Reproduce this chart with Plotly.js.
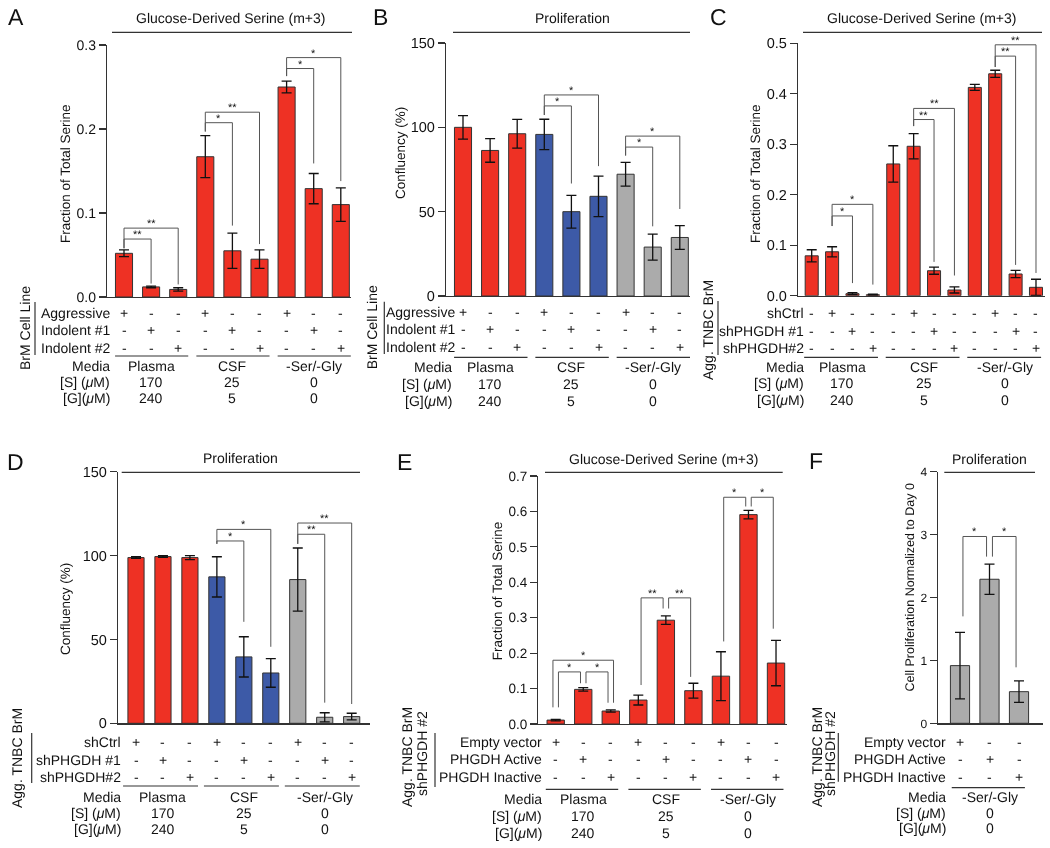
<!DOCTYPE html>
<html lang="en">
<head>
<meta charset="UTF-8" />
<title>Serine synthesis in BrM cells</title>
<script src="https://cdn.plot.ly/plotly-3.0.1.min.js"></script>
<style>
  body { margin: 0; background: #fff; }
  #fig { width: 1050px; height: 848px; will-change: transform; }
  #fig text { text-rendering: geometricPrecision; }
</style>
</head>
<body>
<div id="fig"></div>
<script>
// media table, shared by all panels
const mediaNames = ['Plasma', 'CSF', '-Ser/-Gly'];
const serineUM = ['170', '25', '0'];
const glycineUM = ['240', '5', '0'];
const mediaLabels = ['Media', '[S] (<i>μ</i>M)', '[G](<i>μ</i>M)'];

// A - glucose-derived serine, BrM lines
const aRows = ['Aggressive', 'Indolent #1', 'Indolent #2'];
const aCond = [0, 1, 2, 0, 1, 2, 0, 1, 2];
const aValues = [0.052, 0.012, 0.009, 0.167, 0.055, 0.045, 0.250, 0.129, 0.110];
const aErrors = [0.004, 0.001, 0.002, 0.025, 0.021, 0.011, 0.007, 0.018, 0.020];
// [from bar, to bar, bracket height, left leg end, right leg end, label]
const aBrackets = [
  [0, 1, 0.069, 0.058, 0.016, '**'], [0, 2, 0.082, 0.058, 0.015, '**'],
  [3, 4, 0.2075, 0.197, 0.085, '*'], [3, 5, 0.220, 0.197, 0.063, '**'],
  [6, 7, 0.272, 0.263, 0.159, '*'], [6, 8, 0.285, 0.263, 0.138, '*']
];

// B - proliferation, BrM lines
const bValues = [100, 86.3, 96.2, 95.8, 50, 59.1, 72.2, 29, 34.7];
const bErrors = [7, 7, 8.5, 9, 9.7, 12, 7, 7.7, 7];
const bBrackets = [
  [3, 4, 112.7, 107.3, 66.7, '*'], [3, 5, 119.2, 107.3, 77, '*'],
  [6, 7, 88.3, 83.3, 41.3, '*'], [6, 8, 94.8, 83.3, 51.6, '*']
];

// C - glucose-derived serine, shRNA
const cRows = ['shCtrl', 'shPHGDH #1', 'shPHGDH#2'];
const cCond = [-1, 0, 1, 2, -1, 0, 1, 2, -1, 0, 1, 2];
const cValues = [0.079, 0.087, 0.004, 0.002, 0.261, 0.296, 0.0495, 0.0113, 0.4126, 0.4396, 0.043, 0.0166];
const cErrors = [0.012, 0.010, 0.002, 0.001, 0.036, 0.025, 0.007, 0.006, 0.006, 0.007, 0.007, 0.016];
const cBrackets = [
  [1, 2, 0.158, 0.138, 0.025, '*'], [1, 3, 0.181, 0.138, 0.022, '*'],
  [5, 6, 0.349, 0.336, 0.067, '**'], [5, 7, 0.371, 0.336, 0.040, '**'],
  [9, 10, 0.4746, 0.453, 0.061, '**'], [9, 11, 0.497, 0.453, 0.045, '**']
];

// D - proliferation, shRNA
const dCond = [0, 1, 2, 0, 1, 2, 0, 1, 2];
const dValues = [98.8, 99.4, 98.8, 87.3, 39.6, 30, 85.7, 3.6, 4];
const dErrors = [0.5, 0.5, 1.2, 12, 12, 8.5, 18.8, 2.7, 2];
const dBrackets = [
  [3, 4, 108.7, 107, 60.5, '*'], [3, 5, 115.6, 107, 45.6, '*'],
  [6, 7, 112.7, 107, 12.3, '**'], [6, 8, 119.4, 107, 11.5, '**']
];

// E - glucose-derived serine, rescue
const eRows = ['Empty vector', 'PHGDH Active', 'PHGDH Inactive'];
const eCond = [0, 1, 2, 0, 1, 2, 0, 1, 2];
const eValues = [0.011, 0.0977, 0.0366, 0.0676, 0.293, 0.094, 0.135, 0.591, 0.172];
const eErrors = [0.002, 0.005, 0.003, 0.014, 0.012, 0.021, 0.069, 0.012, 0.064];
const eBrackets = [
  [0, 2, 0.180, 0.047, 0.060, '*'], [0, 1, 0.147, 0.047, 0.115, '*'], [1, 2, 0.147, 0.115, 0.060, '*'],
  [3, 4, 0.356, 0.110, 0.326, '**'], [4, 5, 0.356, 0.326, 0.133, '**'],
  [6, 7, 0.640, 0.233, 0.614, '*'], [7, 8, 0.640, 0.614, 0.269, '*']
];

// F - proliferation, rescue in -Ser/-Gly
const fCond = [0, 1, 2];
const fValues = [0.917, 2.29, 0.503];
const fErrors = [0.53, 0.24, 0.17];
const fBrackets = [[0, 1, 2.97, 1.70, 2.65, '*'], [1, 2, 2.97, 2.65, 0.89, '*']];

const FONT = 'Liberation Sans, Arial, Helvetica, sans-serif';
const RED = '#ee3124', BLUE = '#3d5aa7', GREY = '#ababab';
const INK = '#111111';
const W = 1050, H = 848;
const px = x => x / W;
const py = y => 1 - y / H;

const panels = [
  { values: aValues, errors: aErrors, cond: aCond, rows: aRows, brackets: aBrackets, groupSize: 3, media: [0, 1, 2],
    colors: [RED, RED, RED], box: [107, 351, 45, 297], bar0: 124, step: 27.1, barWidth: 0.63,
    yMax: 0.3, dtick: 0.1, fmt: '.1f', tickSize: 14,
    title: 'Glucose-Derived Serine (m+3)', titleAt: [230, 18], titleLine: [112, 352, 32.3],
    letter: 'A', letterAt: [15.5, 17], yTitle: 'Fraction of Total Serine', yTitleAt: [65, 174], yTitleSize: 13.5,
    rowY: [313, 330.5, 348], labelRight: 111, vline: [35, 302, 355], side: [['BrM Cell Line', 25, 328]],
    groupLineY: 356, groupExt: [-0.33, 0.37], mediaY: [366, 382, 398], mediaRight: 111 },
  { values: bValues, errors: bErrors, cond: aCond, rows: aRows, brackets: bBrackets, groupSize: 3, media: [0, 1, 2],
    colors: [RED, BLUE, GREY], box: [446, 690, 43, 296], bar0: 463, step: 27.1, barWidth: 0.63,
    yMax: 150, dtick: 50, fmt: 'd', tickSize: 14.5,
    title: 'Proliferation', titleAt: [572, 18], titleLine: [453, 690, 32.3],
    letter: 'B', letterAt: [380.5, 17], yTitle: 'Confluency (%)', yTitleAt: [400, 153], yTitleSize: 13.5,
    rowY: [311.5, 329.5, 346.8], labelRight: 456, vline: [384.3, 301.7, 354], side: [['BrM Cell Line', 372.3, 327]],
    groupLineY: 357.3, groupExt: [-0.33, 0.38], mediaY: [366.7, 384, 400.7], mediaRight: 453.3 },
  { values: cValues, errors: cErrors, cond: cCond, rows: cRows, brackets: cBrackets, groupSize: 4, media: [0, 1, 2],
    colors: [RED, RED, RED], box: [798, 1045, 43.3, 295.7], bar0: 811.7, step: 20.39, barWidth: 0.64,
    yMax: 0.5, dtick: 0.1, fmt: '.1f', tickSize: 14.5,
    title: 'Glucose-Derived Serine (m+3)', titleAt: [921.7, 18], titleLine: [803, 1042, 32.3],
    letter: 'C', letterAt: [718.5, 17], yTitle: 'Fraction of Total Serine', yTitleAt: [755, 174], yTitleSize: 13.5,
    rowY: [313, 331, 348.3], labelRight: 805, vline: [718, 301, 355], side: [['Agg. TNBC BrM', 708, 330]],
    groupLineY: 357.3, groupExt: [-0.37, 0.25], mediaY: [366.7, 383, 400], mediaRight: 805 },
  { values: dValues, errors: dErrors, cond: dCond, rows: cRows, brackets: dBrackets, groupSize: 3, media: [0, 1, 2],
    colors: [RED, BLUE, GREY], box: [118, 370, 471.7, 723.3], bar0: 136, step: 26.96, barWidth: 0.6,
    yMax: 150, dtick: 50, fmt: 'd', tickSize: 14.5,
    title: 'Proliferation', titleAt: [240, 458], titleLine: [121.7, 360, 472.3],
    letter: 'D', letterAt: [15, 461.7], yTitle: 'Confluency (%)', yTitleAt: [65, 609], yTitleSize: 13.5,
    rowY: [741.7, 760, 777.3], labelRight: 121.7, vline: [31.7, 733, 783], side: [['Agg. TNBC BrM', 17, 758]],
    groupLineY: 786, groupExt: [-0.48, 0.3], mediaY: [796.7, 812.7, 829.3], mediaRight: 121.7 },
  { values: eValues, errors: eErrors, cond: eCond, rows: eRows, brackets: eBrackets, groupSize: 3, media: [0, 1, 2],
    nested: true, colors: [RED, RED, RED], box: [538.3, 786.7, 476, 724], bar0: 555.7, step: 27.54, barWidth: 0.63,
    yMax: 0.7, dtick: 0.1, fmt: '.1f', tickSize: 13.5,
    title: 'Glucose-Derived Serine (m+3)', titleAt: [663.3, 459], titleLine: [545, 782.7, 472.3],
    letter: 'E', letterAt: [404, 461.7], yTitle: 'Fraction of Total Serine', yTitleAt: [497.3, 591], yTitleSize: 13.5,
    rowY: [742.3, 759.3, 776.7], labelRight: 543.3, vline: [435, 733, 787],
    side: [['Agg. TNBC BrM', 407, 757], ['shPHGDH #2', 422, 754]],
    groupLineY: 789.3, groupExt: [-0.36, 0.27], mediaY: [799.3, 816, 832.7], mediaRight: 543.3 },
  { values: fValues, errors: fErrors, cond: fCond, rows: eRows, brackets: fBrackets, groupSize: 3, media: [2],
    nested: true, colors: [GREY], box: [937.7, 1043, 471.7, 723.3], bar0: 960, step: 29.5, barWidth: 0.65,
    yMax: 4, dtick: 1, fmt: 'd', tickSize: 12,
    title: 'Proliferation', titleAt: [989.3, 459], titleLine: [944.3, 1035, 472.3],
    letter: 'F', letterAt: [816, 461], yTitle: 'Cell Proliferation Normalized to Day 0', yTitleAt: [909, 587.5], yTitleSize: 12.5,
    rowY: [742.3, 759.3, 777], labelRight: 947.3, vline: [838.3, 733, 781.7],
    side: [['Agg. TNBC BrM', 817, 757], ['shPHGDH #2', 830, 754]],
    groupLineY: 787.7, groupExt: [-0.28, 0.2], mediaY: [796.7, 813.3, 828.3], mediaRight: 947.3 }
];

const data = [];
const shapes = [];
const annotations = [];
const layout = {
  width: W, height: H, margin: { l: 0, r: 0, t: 0, b: 0 },
  showlegend: false, paper_bgcolor: '#ffffff', plot_bgcolor: 'rgba(0,0,0,0)',
  font: { family: FONT, size: 14, color: INK },
  shapes: shapes, annotations: annotations
};

function label(text, x, y, opts) {
  annotations.push(Object.assign({
    text: text, x: x, y: y, xref: 'paper', yref: 'paper', showarrow: false, borderpad: 0,
    xanchor: 'center', yanchor: 'middle', font: { family: FONT, size: 14, color: INK }
  }, opts || {}));
}

function rule(x0, y0, x1, y1, color, width, xref) {
  shapes.push({ type: 'line', xref: xref || 'paper', yref: 'paper', x0: x0, x1: x1, y0: y0, y1: y1,
    line: { color: color, width: width } });
}

panels.forEach((p, k) => {
  const n = k + 1;
  const xa = n === 1 ? 'x' : 'x' + n;
  const ya = n === 1 ? 'y' : 'y' + n;
  const [left, right, top, bottom] = p.box;
  const xs = p.values.map((_, i) => i);

  layout['xaxis' + (n === 1 ? '' : n)] = {
    domain: [px(left), px(right)], anchor: ya,
    range: [(left - p.bar0) / p.step, (right - p.bar0) / p.step],
    showline: true, linecolor: '#333', linewidth: 1.2, showticklabels: false, ticks: '',
    showgrid: false, zeroline: false, fixedrange: true
  };
  layout['yaxis' + (n === 1 ? '' : n)] = {
    domain: [py(bottom), py(top)], anchor: xa, range: [0, p.yMax],
    tick0: 0, dtick: p.dtick, tickformat: p.fmt,
    showline: true, linecolor: '#333', linewidth: 1.2,
    ticks: 'outside', ticklen: 7, tickwidth: 1.2, tickcolor: '#333',
    tickfont: { family: FONT, size: p.tickSize, color: INK },
    showgrid: false, zeroline: false, fixedrange: true
  };

  data.push({
    type: 'bar', x: xs, y: p.values, xaxis: xa, yaxis: ya, width: p.barWidth,
    marker: { color: xs.map(i => p.colors[Math.floor(i / p.groupSize)]), line: { color: '#333', width: 1 } },
    error_y: { type: 'data', array: p.errors, visible: true, color: INK, thickness: 1.3, width: 5 },
    hoverinfo: 'skip'
  });

  // significance brackets
  p.brackets.forEach(([a, b, lvl, lb, rb, star]) => {
    let xl = a, xr = b;
    if (p.nested) {
      const inset = (b - a === 1) ? 0.1 : -0.1;
      xl = a + inset;
      xr = b - inset;
    }
    shapes.push({
      type: 'path', xref: xa, yref: ya,
      path: `M ${xl},${lb} L ${xl},${lvl} L ${xr},${lvl} L ${xr},${rb}`,
      line: { color: '#555', width: 1 }
    });
    annotations.push({
      text: star, x: (xl + xr) / 2, y: lvl, xref: xa, yref: ya, showarrow: false, borderpad: 0,
      xanchor: 'center', yanchor: 'bottom', yshift: -2, font: { family: FONT, size: 11, color: INK }
    });
  });

  // title, rule and panel letter
  label(p.title, px(p.titleAt[0]), py(p.titleAt[1]), { font: { family: FONT, size: 14, color: INK } });
  rule(px(p.titleLine[0]), py(p.titleLine[2]), px(p.titleLine[1]), py(p.titleLine[2]), '#333', 1.2);
  label(p.letter, px(p.letterAt[0]), py(p.letterAt[1]), { font: { family: FONT, size: 23, color: INK } });
  label(p.yTitle, px(p.yTitleAt[0]), py(p.yTitleAt[1]),
    { textangle: -90, font: { family: FONT, size: p.yTitleSize, color: INK } });

  // condition table
  p.rows.forEach((row, r) => {
    label(row, px(p.labelRight), py(p.rowY[r]), { xanchor: 'right' });
    xs.forEach(i => {
      annotations.push({
        text: p.cond[i] === r ? '+' : '-', x: i, y: py(p.rowY[r]), xref: xa, yref: 'paper',
        showarrow: false, borderpad: 0, xanchor: 'center', yanchor: 'middle',
        font: { family: FONT, size: 14, color: INK }
      });
    });
  });
  rule(px(p.vline[0]), py(p.vline[1]), px(p.vline[0]), py(p.vline[2]), '#333', 1.2);
  p.side.forEach(([t, x, y]) => label(t, px(x), py(y), { textangle: -90 }));

  // media rows
  p.media.forEach((m, g) => {
    const start = g * p.groupSize;
    const end = start + p.groupSize - 1;
    const mid = (start + end) / 2;
    rule(start + p.groupExt[0], py(p.groupLineY), end + p.groupExt[1], py(p.groupLineY), '#333', 1.2, xa);
    [mediaNames[m], serineUM[m], glycineUM[m]].forEach((v, r) => {
      annotations.push({
        text: v, x: mid, y: py(p.mediaY[r]), xref: xa, yref: 'paper', showarrow: false, borderpad: 0,
        xanchor: 'center', yanchor: 'middle', font: { family: FONT, size: 14, color: INK }
      });
    });
  });
  mediaLabels.forEach((t, r) => label(t, px(p.mediaRight), py(p.mediaY[r]), { xanchor: 'right' }));
});

Plotly.newPlot('fig', data, layout, { displayModeBar: false, staticPlot: true });
</script>
</body>
</html>
